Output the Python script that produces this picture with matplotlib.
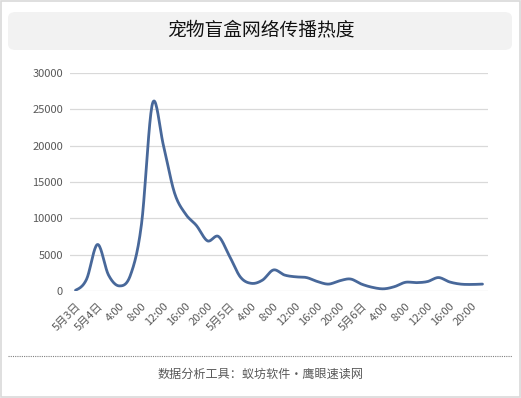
import numpy as np
import matplotlib.pyplot as plt
from matplotlib.patches import FancyBboxPatch, Rectangle

plt.rcParams['font.family'] = ['Noto Sans CJK SC', 'DejaVu Sans']

title = '宠物盲盒网络传播热度'
footer = '数据分析工具：蚁坊软件・鹰眼速读网'

# one point every 2 hours, label on every other point
tick_labels = ['5月3日', '5月4日', '4:00', '8:00', '12:00', '16:00', '20:00',
               '5月5日', '4:00', '8:00', '12:00', '16:00', '20:00',
               '5月6日', '4:00', '8:00', '12:00', '16:00', '20:00']
heat = [100, 1600, 6400, 2200, 700, 2200, 9200, 25800, 20000, 13500,
        10600, 9000, 6900, 7500, 4800, 1900, 1050, 1500, 2900, 2200,
        1950, 1850, 1300, 950, 1400, 1650, 950, 500, 300, 600,
        1200, 1150, 1300, 1850, 1250, 950, 900, 950]
y_ticks = [0, 5000, 10000, 15000, 20000, 25000, 30000]

line_col = '#48689a'
text_col = '#595959'
grid_col = '#d9d9d9'


def smooth(y, n=20):
    # catmull-rom between the points, like the office "smoothed line"
    y = np.asarray(y, dtype=float)
    p = np.concatenate([[y[0]], y, [y[-1]]])
    xs, ys = [], []
    for i in range(len(y) - 1):
        p0, p1, p2, p3 = p[i], p[i + 1], p[i + 2], p[i + 3]
        t = np.linspace(0, 1, n, endpoint=False)
        yy = 0.5 * ((2 * p1) + (-p0 + p2) * t + (2 * p0 - 5 * p1 + 4 * p2 - p3) * t ** 2
                    + (-p0 + 3 * p1 - 3 * p2 + p3) * t ** 3)
        xs.append(i + t)
        ys.append(yy)
    xs.append([len(y) - 1])
    ys.append([y[-1]])
    return np.concatenate(xs), np.concatenate(ys)


fig = plt.figure(figsize=(5.21, 3.98), dpi=100)
fig.patches.append(Rectangle((0.002, 0.002), 0.996, 0.995, transform=fig.transFigure,
                             fill=False, ec='#d9d9d9', lw=1.2))
fig.patches.append(FancyBboxPatch((8 / 521, 1 - 50 / 398), 504 / 521, 38 / 398,
                                  boxstyle='round,pad=0,rounding_size=0.015',
                                  transform=fig.transFigure, fc='#f2f2f2', ec='none'))
fig.text(0.5, 1 - 31 / 398, title, ha='center', va='center', fontsize=13.5,
         color='#111111', weight='medium')

ax = fig.add_axes([70 / 521, 1 - 291 / 398, 418 / 521, 218 / 398])
xs, ys = smooth(heat)
ax.plot(xs, ys, color=line_col, lw=2.0, solid_capstyle='round', zorder=3)

ax.set_xlim(-0.5, len(heat) - 0.5)
ax.set_ylim(0, 30000)
ax.set_yticks(y_ticks)
ax.set_yticklabels([str(v) for v in y_ticks])
ax.set_xticks(range(0, len(heat), 2))
ax.set_xticklabels(tick_labels, rotation=45, ha='right', rotation_mode='anchor')
ax.tick_params(axis='both', length=0, labelsize=8, colors=text_col, pad=5)
ax.tick_params(axis='x', pad=7)
ax.grid(axis='y', color=grid_col, lw=0.9)
ax.set_axisbelow(True)
for s in ax.spines.values():
    s.set_visible(False)

fig.add_artist(plt.Line2D([8 / 521, 512 / 521], [1 - 356 / 398, 1 - 356 / 398],
                          transform=fig.transFigure, color='#808080', lw=0.8, ls=(0, (1, 1))))
fig.text(0.5, 1 - 374 / 398, footer, ha='center', va='center', fontsize=8.7, color=text_col)

fig.savefig('out.png', dpi=100)
